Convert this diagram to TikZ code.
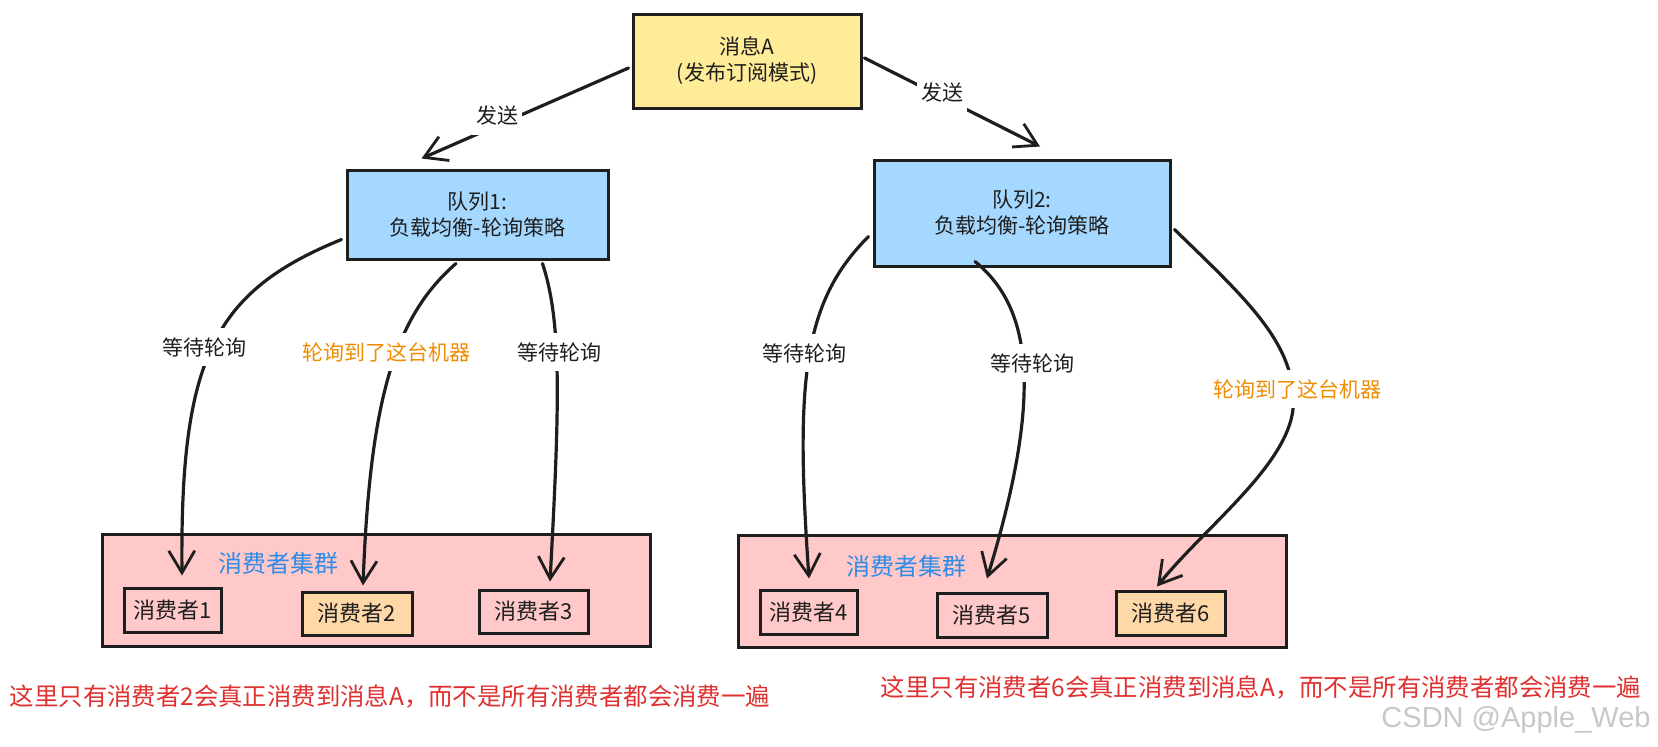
\documentclass[tikz,border=0pt]{standalone}
\usepackage{fontspec}
\setmainfont{Noto Sans CJK SC}
\newfontfamily\wmfont{Liberation Sans}
\usetikzlibrary{arrows.meta}
\definecolor{ink}{HTML}{1E1E1E}
\definecolor{msgfill}{HTML}{FFEC99}
\definecolor{qfill}{HTML}{A5D8FF}
\definecolor{clfill}{HTML}{FFC9C9}
\definecolor{hitfill}{HTML}{FFD8A8}
\definecolor{bluetxt}{HTML}{2F8BE6}
\definecolor{orangetxt}{HTML}{F08C00}
\definecolor{redtxt}{HTML}{E03131}
\definecolor{wmgray}{HTML}{C8C8C8}
\begin{document}
\begin{tikzpicture}[x=1pt,y=-1pt,
  box/.style={draw=ink, line width=3pt, inner sep=0pt, align=center, text=ink,
    font=\fontsize{21}{26}\selectfont},
  consumer/.style={box, font=\fontsize{22}{26}\selectfont},
  conn/.style={draw=ink, line width=3.2pt, line cap=round,
    -{Straight Barb[length=22pt,width=26pt,line width=2.8pt]}},
  lbl/.style={fill=white, inner xsep=4pt, inner ysep=9pt, text=ink,
    font=\fontsize{21}{26}\selectfont},
  hitlbl/.style={lbl, text=orangetxt},
  note/.style={text=redtxt, inner sep=0pt, font=\fontsize{24.4}{28}\selectfont},
  clabel/.style={text=bluetxt, inner sep=0pt, font=\fontsize{24}{28}\selectfont}]
\useasboundingbox (0,0) rectangle (1658,747);
\fill[white] (0,0) rectangle (1658,747);

% top message
\node[box, fill=msgfill, minimum width=228pt, minimum height=94pt] (msg) at (747,61)
  {消息A\\(发布订阅模式)};

% queues
\node[box, fill=qfill, minimum width=261pt, minimum height=89pt] (q1) at (477.5,214.5)
  {队列1:\\负载均衡-轮询策略};
\node[box, fill=qfill, minimum width=296pt, minimum height=106pt] (q2) at (1022,213)
  {队列2:\\负载均衡-轮询策略};

% clusters
\node[box, fill=clfill, minimum width=548pt, minimum height=112pt] (cl1) at (376,590) {};
\node[box, fill=clfill, minimum width=548pt, minimum height=112pt] (cl2) at (1012,591) {};
\node[clabel] (cl1lbl) at (278,563) {消费者集群};
\node[clabel] (cl2lbl) at (906,566) {消费者集群};

% consumers
\node[consumer, minimum width=97pt, minimum height=44pt] (c1) at (172.5,610) {消费者1};
\node[consumer, fill=hitfill, minimum width=110pt, minimum height=43pt] (c2) at (357,613.5) {消费者2};
\node[consumer, minimum width=109pt, minimum height=43pt] (c3) at (533.5,611.5) {消费者3};
\node[consumer, minimum width=97pt, minimum height=44pt] (c4) at (808.5,612) {消费者4};
\node[consumer, minimum width=110pt, minimum height=44pt] (c5) at (992,615) {消费者5};
\node[consumer, fill=hitfill, minimum width=109pt, minimum height=44pt] (c6) at (1170.5,613) {消费者6};

% send arrows
\draw[conn] ([shift={(-3,7)}]msg.west) -- ([shift={(-56,-10)}]q1.north);
\draw[conn] ([shift={(2,-3)}]msg.east) -- ([shift={(18,-12)}]q2.north);
\node[lbl] (s1) at (497,116) {发送};
\node[lbl] (s2) at (942,93) {发送};

% queue 1 arrows
\draw[conn] ([shift={(-4,-21)}]q1.south west) .. controls +(-128,52) and +(-2,-217) .. ([shift={(9.5,-11)}]c1.north);
\draw[conn] ([shift={(-21.5,3)}]q1.south) .. controls +(-61,53) and +(7,-187) .. ([shift={(6,-5)}]c2.north);
\draw[conn] ([shift={(-67,3)}]q1.south east) .. controls +(19,58) and +(10,-183) .. ([shift={(16.5,-7)}]c3.north);
\node[lbl] (w1) at (204,347) {等待轮询};
\node[hitlbl] (h1) at (386,352) {轮询到了这台机器};
\node[lbl] (w2) at (559,352) {等待轮询};

% queue 2 arrows
\draw[conn] ([shift={(-4,-31)}]q2.south west) .. controls +(-65,65) and +(-14,-200) .. ([shift={(0.5,-10)}]c4.north);
\draw[conn] ([shift={(-47,-6)}]q2.south) .. controls +(55,45) and +(58,-190) .. ([shift={(-5,-13)}]c5.north);
\draw[conn] ([shift={(3,-38)}]q2.south east) .. controls +(70,68) and +(0,-60) .. ++(119,172)
  .. controls +(0,60) and +(50,-62) .. ([shift={(-13.5,-3)}]c6.north);
\node[lbl] (w3) at (804,353) {等待轮询};
\node[lbl] (w4) at (1032,363) {等待轮询};
\node[hitlbl] (h2) at (1297,389) {轮询到了这台机器};

% notes
\node[note] (n1) at (390,696) {这里只有消费者2会真正消费到消息A，而不是所有消费者都会消费一遍};
\node[note] (n2) at (1261,687) {这里只有消费者6会真正消费到消息A，而不是所有消费者都会消费一遍};
\node[text=wmgray, inner sep=0pt, font=\wmfont\fontsize{29}{32}\selectfont] (wm) at (1516,720) {CSDN @Apple\_Web};
\end{tikzpicture}
\end{document}
